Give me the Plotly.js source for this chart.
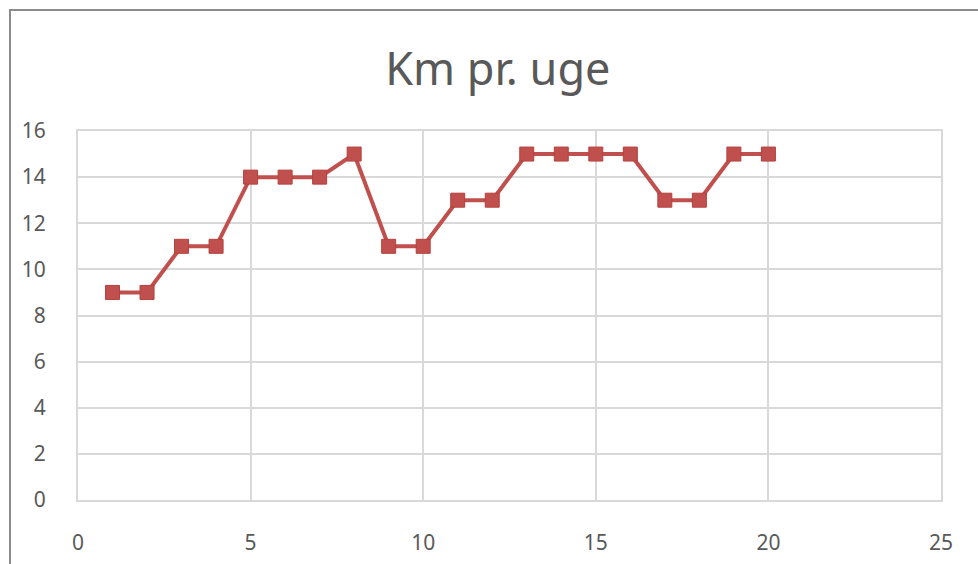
<!DOCTYPE html>
<html><head><meta charset="utf-8">
<script src="https://cdn.plot.ly/plotly-3.0.1.min.js"></script>
<style>
html,body{margin:0;padding:0;background:#fff;overflow:hidden}
#chart{width:978px;height:564px;position:relative}
#frame{position:absolute;left:9px;top:9px;width:1000px;height:600px;border-left:2px solid #8c8c8c;border-top:2px solid #8c8c8c;pointer-events:none;z-index:10}
</style></head>
<body>
<div id="frame"></div>
<div id="chart"></div>
<script>
const weeks = [1,2,3,4,5,6,7,8,9,10,11,12,13,14,15,16,17,18,19,20];
const km = [9,9,11,11,14,14,14,15,11,11,13,13,15,15,15,15,13,13,15,15];
const xTicks = [0,5,10,15,20,25];
const yTicks = [0,2,4,6,8,10,12,14,16];

const trace = {
  x: weeks, y: km, type: 'scatter', mode: 'lines+markers',
  line: {color: '#c0504d', width: 4},
  marker: {symbol: 'square', size: 14, color: '#c0504d', line: {color: '#b5403d', width: 1}},
  hoverinfo: 'skip'
};
const layout = {
  width: 978, height: 564,
  margin: {l: 78, r: 37, t: 131, b: 64},
  paper_bgcolor: '#fff', plot_bgcolor: '#fff',
  showlegend: false,
  title: {text: 'Km pr. uge', x: 0.509, xanchor: 'center', y: 0.878, yanchor: 'middle',
          font: {family: 'Noto Sans, DejaVu Sans, sans-serif', size: 45, color: '#595959'}},
  xaxis: {range: [0, 25], tickvals: xTicks, ticktext: xTicks.map(String),
          showgrid: true, gridcolor: '#d9d9d9', gridwidth: 2, zeroline: false,
          showline: true, linecolor: '#d9d9d9', linewidth: 2, mirror: true,
          ticks: '', ticklabelstandoff: 23,
          tickfont: {family: 'Noto Sans, DejaVu Sans, sans-serif', size: 21, color: '#595959'}},
  yaxis: {range: [0, 16], tickvals: yTicks, ticktext: yTicks.map(String),
          showgrid: true, gridcolor: '#d9d9d9', gridwidth: 2, zeroline: false,
          showline: true, linecolor: '#d9d9d9', linewidth: 2, mirror: true,
          ticks: '', ticklabelstandoff: 26,
          tickfont: {family: 'Noto Sans, DejaVu Sans, sans-serif', size: 21, color: '#595959'}}
};
Plotly.newPlot('chart', [trace], layout, {displayModeBar: false, staticPlot: true});
</script>
</body></html>
